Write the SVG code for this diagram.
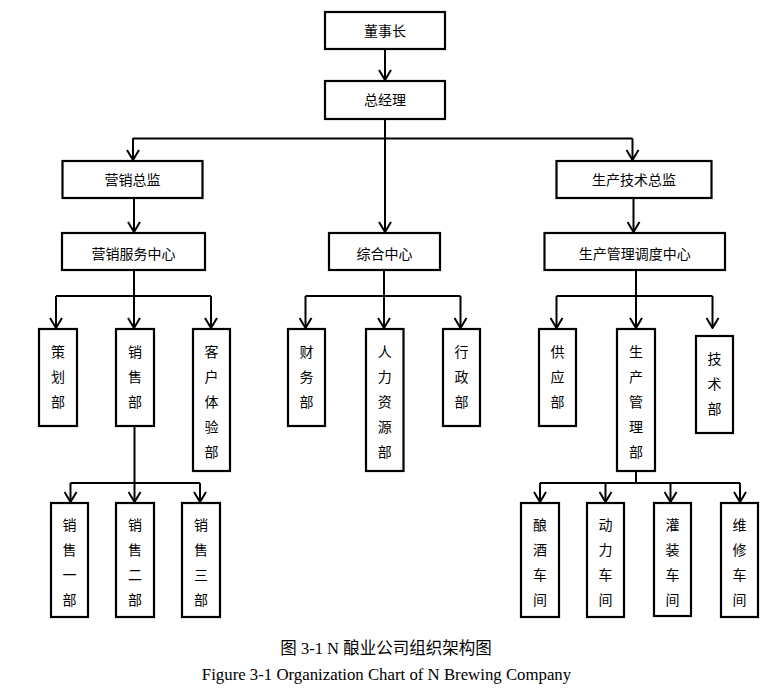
<svg xmlns="http://www.w3.org/2000/svg" width="784" height="695" viewBox="0 0 784 695">
<defs>
<marker id="ah" viewBox="0 0 12 14" refX="11" refY="7" markerWidth="12" markerHeight="14" markerUnits="userSpaceOnUse" orient="auto">
<path d="M1,1 L11,7 L1,13" fill="none" stroke="#000" stroke-width="2"/>
</marker>
<style>
.b{fill:#fff;stroke:#000;stroke-width:2.2}
.t{font-family:"Noto Sans CJK SC","Noto Sans CJK JP",sans-serif;font-size:14px;fill:#000;text-anchor:middle}
.c{fill:none;stroke:#000;stroke-width:2}
.a{marker-end:url(#ah)}
.cap{font-family:"Liberation Serif","Noto Sans CJK SC",serif;font-size:16px;fill:#000;text-anchor:middle}
</style>
</defs>
<rect width="784" height="695" fill="#fff"/>
<g id="connectors">
<path class="c a" d="M385,49 V80"/>
<path class="c" d="M385,119 V138.5 M132.5,138.5 H632.5"/>
<path class="c a" d="M133,138.5 V160"/>
<path class="c a" d="M632.5,138.5 V160"/>
<path class="c a" d="M385,138.5 V232"/>
<path class="c a" d="M134,198 V232"/>
<path class="c a" d="M633.5,198 V232"/>
<path class="c" d="M134,270 V296 M56,296 H211"/>
<path class="c a" d="M56,296 V328"/>
<path class="c a" d="M134,296 V328"/>
<path class="c a" d="M211,296 V328"/>
<path class="c" d="M384,270 V296 M305.5,296 H460.5"/>
<path class="c a" d="M305.5,296 V328"/>
<path class="c a" d="M384,296 V328"/>
<path class="c a" d="M460.5,296 V328"/>
<path class="c" d="M636,270 V296 M556.5,296 H712.5"/>
<path class="c a" d="M556.5,296 V328"/>
<path class="c a" d="M636,296 V328"/>
<path class="c a" d="M712.5,296 V328"/>
<path class="c" d="M134.5,426 V483 M70.5,483 H200"/>
<path class="c a" d="M70.5,483 V502"/>
<path class="c a" d="M134.5,483 V502"/>
<path class="c a" d="M200,483 V502"/>
<path class="c" d="M636,471 V483 M540,483 H740"/>
<path class="c a" d="M540,483 V502"/>
<path class="c a" d="M605.5,483 V502"/>
<path class="c a" d="M670.5,483 V502"/>
<path class="c a" d="M740,483 V502"/>
</g>
<g id="n1"><rect class="b" x="325" y="12" width="120" height="37"/><text class="t" x="385" y="36">董事长</text></g>
<g id="n2"><rect class="b" x="325" y="81" width="120" height="38"/><text class="t" x="385" y="105">总经理</text></g>
<g id="n3"><rect class="b" x="62.5" y="161" width="140" height="37"/><text class="t" x="132.5" y="185">营销总监</text></g>
<g id="n4"><rect class="b" x="556.5" y="161" width="155" height="37"/><text class="t" x="634" y="185">生产技术总监</text></g>
<g id="n5"><rect class="b" x="62" y="233" width="143" height="37"/><text class="t" x="133.5" y="259">营销服务中心</text></g>
<g id="n6"><rect class="b" x="329" y="233" width="111" height="37"/><text class="t" x="384.5" y="259">综合中心</text></g>
<g id="n7"><rect class="b" x="544.5" y="233" width="180.5" height="37"/><text class="t" x="634.7" y="259">生产管理调度中心</text></g>
<g id="n8"><rect class="b" x="39" y="329" width="38" height="97"/><text class="t" x="58"><tspan x="58" y="357">策</tspan><tspan x="58" dy="25">划</tspan><tspan x="58" dy="25">部</tspan></text></g>
<g id="n9"><rect class="b" x="116" y="329" width="38" height="97"/><text class="t" x="135"><tspan x="135" y="357">销</tspan><tspan x="135" dy="25">售</tspan><tspan x="135" dy="25">部</tspan></text></g>
<g id="n10"><rect class="b" x="193" y="329" width="37" height="142"/><text class="t"><tspan x="211.5" y="357">客</tspan><tspan x="211.5" dy="25">户</tspan><tspan x="211.5" dy="25">体</tspan><tspan x="211.5" dy="25">验</tspan><tspan x="211.5" dy="25">部</tspan></text></g>
<g id="n11"><rect class="b" x="288" y="329" width="37" height="97"/><text class="t"><tspan x="306.5" y="357">财</tspan><tspan x="306.5" dy="25">务</tspan><tspan x="306.5" dy="25">部</tspan></text></g>
<g id="n12"><rect class="b" x="366" y="329" width="37.5" height="142"/><text class="t"><tspan x="384.7" y="357">人</tspan><tspan x="384.7" dy="25">力</tspan><tspan x="384.7" dy="25">资</tspan><tspan x="384.7" dy="25">源</tspan><tspan x="384.7" dy="25">部</tspan></text></g>
<g id="n13"><rect class="b" x="443" y="329" width="37" height="97"/><text class="t"><tspan x="461.5" y="357">行</tspan><tspan x="461.5" dy="25">政</tspan><tspan x="461.5" dy="25">部</tspan></text></g>
<g id="n14"><rect class="b" x="539" y="329" width="37" height="97"/><text class="t"><tspan x="557.5" y="357">供</tspan><tspan x="557.5" dy="25">应</tspan><tspan x="557.5" dy="25">部</tspan></text></g>
<g id="n15"><rect class="b" x="617" y="329" width="38" height="142"/><text class="t"><tspan x="636" y="357">生</tspan><tspan x="636" dy="25">产</tspan><tspan x="636" dy="25">管</tspan><tspan x="636" dy="25">理</tspan><tspan x="636" dy="25">部</tspan></text></g>
<g id="n16"><rect class="b" x="696" y="336" width="37" height="97"/><text class="t"><tspan x="714.5" y="363.5">技</tspan><tspan x="714.5" dy="25">术</tspan><tspan x="714.5" dy="25">部</tspan></text></g>
<g id="n17"><rect class="b" x="51" y="503" width="37" height="114"/><text class="t"><tspan x="69.5" y="530">销</tspan><tspan x="69.5" dy="25">售</tspan><tspan x="69.5" dy="25">一</tspan><tspan x="69.5" dy="25">部</tspan></text></g>
<g id="n18"><rect class="b" x="116" y="503" width="38" height="114"/><text class="t"><tspan x="135" y="530">销</tspan><tspan x="135" dy="25">售</tspan><tspan x="135" dy="25">二</tspan><tspan x="135" dy="25">部</tspan></text></g>
<g id="n19"><rect class="b" x="182" y="503" width="38" height="114"/><text class="t"><tspan x="201" y="530">销</tspan><tspan x="201" dy="25">售</tspan><tspan x="201" dy="25">三</tspan><tspan x="201" dy="25">部</tspan></text></g>
<g id="n20"><rect class="b" x="521" y="503" width="38" height="114"/><text class="t"><tspan x="540" y="530">酿</tspan><tspan x="540" dy="25">酒</tspan><tspan x="540" dy="25">车</tspan><tspan x="540" dy="25">间</tspan></text></g>
<g id="n21"><rect class="b" x="587" y="503" width="37" height="114"/><text class="t"><tspan x="605.5" y="530">动</tspan><tspan x="605.5" dy="25">力</tspan><tspan x="605.5" dy="25">车</tspan><tspan x="605.5" dy="25">间</tspan></text></g>
<g id="n22"><rect class="b" x="654" y="503" width="37" height="113"/><text class="t"><tspan x="672.5" y="530">灌</tspan><tspan x="672.5" dy="25">装</tspan><tspan x="672.5" dy="25">车</tspan><tspan x="672.5" dy="25">间</tspan></text></g>
<g id="n23"><rect class="b" x="721" y="503" width="37" height="114"/><text class="t"><tspan x="739.5" y="530">维</tspan><tspan x="739.5" dy="25">修</tspan><tspan x="739.5" dy="25">车</tspan><tspan x="739.5" dy="25">间</tspan></text></g>
<g id="caption">
<text class="cap" x="386" y="654" style="font-size:16.5px">图 3-1 N 酿业公司组织架构图</text>
<text class="cap" x="386.5" y="680" style="font-size:16.8px">Figure 3-1 Organization Chart of N Brewing Company</text>
</g>
</svg>
